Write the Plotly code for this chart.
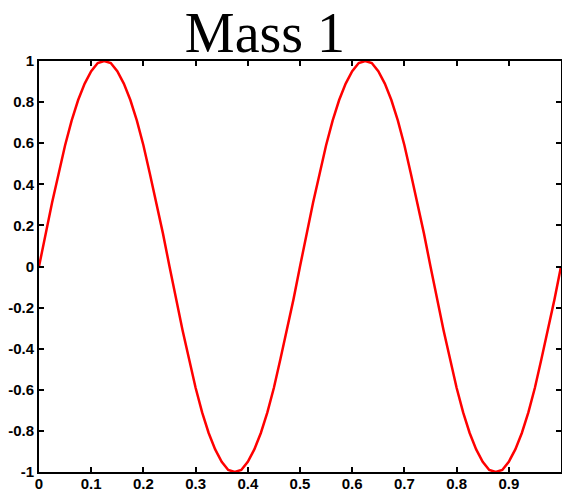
import plotly.graph_objects as go

# time samples (s) and displacement of mass 1
t = [i / 80 for i in range(81)]
displacement = [
    0.00, 0.16, 0.31, 0.45, 0.59, 0.71, 0.81, 0.89, 0.95, 0.99,
    1.00, 0.99, 0.95, 0.89, 0.81, 0.71, 0.59, 0.45, 0.31, 0.16,
    0.00, -0.16, -0.31, -0.45, -0.59, -0.71, -0.81, -0.89, -0.95, -0.99,
    -1.00, -0.99, -0.95, -0.89, -0.81, -0.71, -0.59, -0.45, -0.31, -0.16,
    0.00, 0.16, 0.31, 0.45, 0.59, 0.71, 0.81, 0.89, 0.95, 0.99,
    1.00, 0.99, 0.95, 0.89, 0.81, 0.71, 0.59, 0.45, 0.31, 0.16,
    0.00, -0.16, -0.31, -0.45, -0.59, -0.71, -0.81, -0.89, -0.95, -0.99,
    -1.00, -0.99, -0.95, -0.89, -0.81, -0.71, -0.59, -0.45, -0.31, -0.16,
    0.00,
]
x_ticks = [0, 0.1, 0.2, 0.3, 0.4, 0.5, 0.6, 0.7, 0.8, 0.9, 1]
y_ticks = [-1, -0.8, -0.6, -0.4, -0.2, 0, 0.2, 0.4, 0.6, 0.8, 1]

trace = go.Scatter(x=t, y=displacement, mode="lines",
                   line=dict(color="#ff0000", width=2.5), showlegend=False)

fig = go.Figure(data=trace)

tick_font = dict(family="Liberation Sans", size=15, color="black", weight="bold")
axis_style = dict(showgrid=False, zeroline=False, showline=True, linecolor="black",
                  linewidth=2, mirror="ticks", ticks="inside", ticklen=5,
                  tickwidth=1.5, tickcolor="black", tickfont=tick_font,
                  automargin=False)

fig.update_xaxes(range=[0, 1], tickvals=x_ticks, ticklabelstandoff=-3,
                 ticktext=[f"{v:g}" for v in x_ticks], **axis_style)
fig.update_yaxes(range=[-1, 1], tickvals=y_ticks,
                 ticktext=[f"{v:g}" for v in y_ticks], **axis_style)

fig.update_layout(
    width=562, height=492,
    margin=dict(l=39, r=1, t=61, b=20),
    paper_bgcolor="white", plot_bgcolor="white",
    title=dict(text="Mass 1", xref="container", x=0.4715, xanchor="center",
               yref="container", y=0.935, yanchor="middle",
               font=dict(family="Liberation Serif", size=56, color="black")),
)

# drop the page's default body margin so the figure fills the window
fig.write_html("out.html", config={"displayModeBar": False},
               post_script="document.body.style.margin='0';"
                           "document.body.style.overflow='hidden';")
